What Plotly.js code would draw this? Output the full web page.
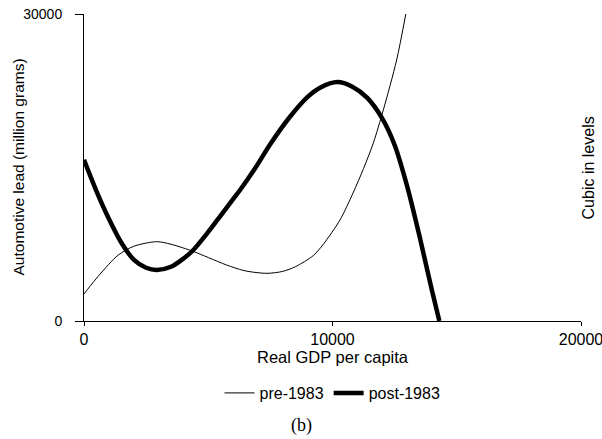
<!DOCTYPE html>
<html>
<head>
<meta charset="utf-8">
<script src="https://cdn.plot.ly/plotly-3.0.1.min.js"></script>
<style>html,body{margin:0;padding:0;background:#fff;}#chart{width:602px;height:439px;}</style>
</head>
<body>
<div id="chart"></div>
<script>
// Real GDP per capita (x) and automotive lead (million grams)
const preX  = [0, 443, 1000, 1380, 2000, 2925, 3500, 4400, 5000, 5740, 6400, 6880, 7400, 8000, 8500, 9230, 9630, 10300, 10825, 11250, 11640, 12045, 12580, 12950];
const preY  = [2640, 4000, 5550, 6450, 7300, 7750, 7500, 6800, 6200, 5470, 4950, 4750, 4660, 4850, 5300, 6400, 7500, 9870, 12500, 14900, 17370, 20620, 25500, 30000];
const postX = [0, 500, 1000, 1517, 2000, 2500, 2925, 3500, 4000, 4400, 5000, 5500, 6000, 6280, 6880, 7500, 8290, 9000, 9500, 10200, 10800, 11400, 12000, 12500, 13000, 13500, 14000, 14300];
const postY = [15750, 12700, 10000, 7600, 6000, 5200, 4984, 5300, 6100, 6940, 8700, 10300, 11900, 12800, 14900, 17300, 19960, 21900, 22800, 23350, 22900, 21800, 19800, 17200, 13200, 8300, 3000, 0];
const seriesNames = ["pre-1983", "post-1983"];
const xTicks = [0, 10000, 20000];
const yTicks = [0, 30000];

const font = "Arial, 'Liberation Sans', sans-serif";
const traces = [
  {x: preX, y: preY, name: seriesNames[0], mode: "lines", line: {color: "#000", width: 1, shape: "spline", smoothing: 0.8}},
  {x: postX, y: postY, name: seriesNames[1], mode: "lines", line: {color: "#000", width: 4.5, shape: "spline", smoothing: 0.8}}
];
const layout = {
  width: 602, height: 439,
  margin: {l: 84, r: 21, t: 14, b: 118},
  paper_bgcolor: "#fff", plot_bgcolor: "#fff",
  showlegend: true,
  legend: {orientation: "h", x: 0.5, xanchor: "center", y: -0.2345, yanchor: "middle",
           font: {family: font, size: 16, color: "#000"}},
  xaxis: {
    range: [0, 20000], tickvals: xTicks, ticktext: xTicks.map(String),
    showline: true, linecolor: "#000", linewidth: 1, ticks: "outside", ticklen: 4, tickcolor: "#000",
    showgrid: false, zeroline: false, tickfont: {family: font, size: 16, color: "#000"},
    ticklabelstandoff: 0, ticklabeloverflow: "allow",
    title: {text: "Real GDP per capita", font: {family: font, size: 16.5, color: "#000"}, standoff: 0}
  },
  yaxis: {
    range: [0, 30000], tickvals: yTicks, ticktext: yTicks.map(String),
    showline: true, linecolor: "#000", linewidth: 1, ticks: "outside", ticklen: 8, tickcolor: "#000",
    showgrid: false, zeroline: false, tickfont: {family: font, size: 14, color: "#000"},
    ticklabelstandoff: 10, ticklabeloverflow: "allow"
  },
  annotations: [
    {text: "Automotive lead (million grams)", xref: "paper", yref: "paper", x: (18 - 84) / 497, y: 0.5, showarrow: false,
     textangle: -90, font: {family: font, size: 15.5, color: "#000"}, xanchor: "center", yanchor: "middle"},
    {text: "Cubic in levels", xref: "paper", yref: "paper", x: 1.016, y: 0.5, showarrow: false,
     textangle: -90, font: {family: font, size: 16, color: "#000"}, xanchor: "center", yanchor: "middle"},
    {text: "(b)", xref: "paper", yref: "paper", x: (301 - 84) / 497, y: (321 - 425) / 307, showarrow: false,
     font: {family: "'Times New Roman', 'Liberation Serif', serif", size: 18, color: "#000"}, xanchor: "center", yanchor: "middle"}
  ]
};
Plotly.newPlot("chart", traces, layout, {staticPlot: true, displayModeBar: false});
</script>
</body>
</html>
